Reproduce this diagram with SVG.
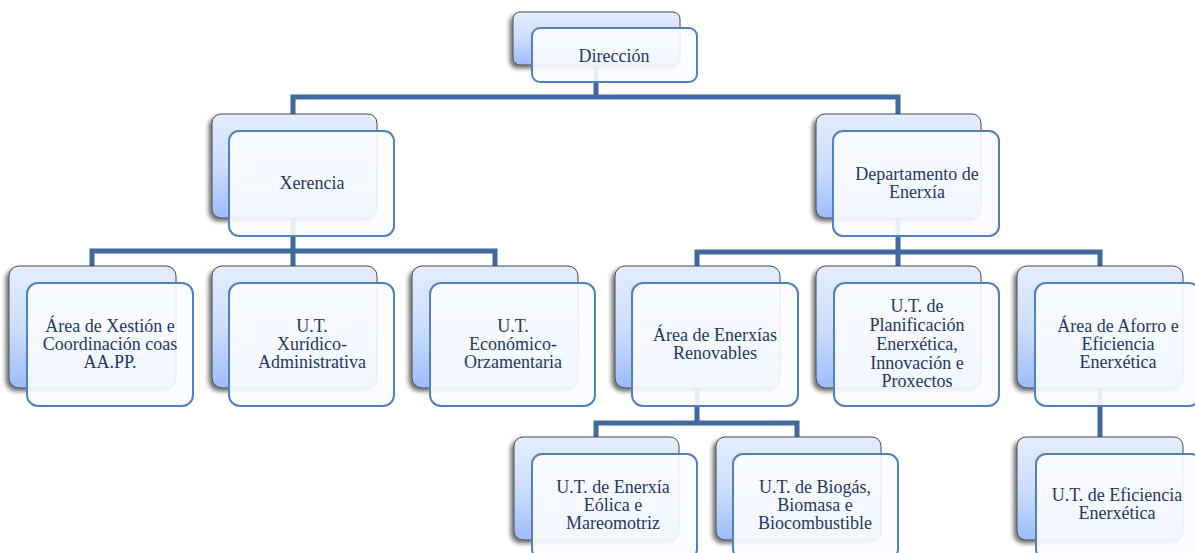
<svg xmlns="http://www.w3.org/2000/svg" width="1195" height="553" viewBox="0 0 1195 553">
<defs>
<linearGradient id="bg" x1="0" y1="0" x2="0" y2="1">
<stop offset="0" stop-color="#e4edfd"/>
<stop offset="0.5" stop-color="#cddefd"/>
<stop offset="1" stop-color="#9dbcfd"/>
</linearGradient>
<filter id="sh" x="-10%" y="-10%" width="120%" height="125%">
<feDropShadow dx="-3" dy="3" stdDeviation="2" flood-color="#000" flood-opacity="0.55"/>
</filter>
<style>
.back{fill:url(#bg);stroke:#4a4a4a;stroke-width:1;filter:url(#sh)}
.front{fill:#fbfcff;fill-opacity:0.9;stroke:#4f81bd;stroke-width:2}
.conn{fill:none;stroke:#41699f;stroke-width:5;stroke-linejoin:miter;stroke-linecap:butt}
text{font-family:"Liberation Serif","Times New Roman",serif;font-size:18px;fill:#1f3862;text-anchor:middle}
</style>
</defs>
<rect width="1195" height="553" fill="#ffffff"/>
<g id="connectors">
<path class="conn" d="M596,65 V97 M293,114 V97 H898 V114"/>
<path class="conn" d="M293,218 V251 M92,266 V251 H495 V266 M293,251 V266"/>
<path class="conn" d="M898,218 V252 M697,266 V252 H1100 V266 M898,252 V266"/>
<path class="conn" d="M697,388 V423 M596,437 V423 H797 V437"/>
<path class="conn" d="M1100,388 V437"/>
</g>
<g id="n-direccion">
<rect class="back" x="513" y="12" width="167" height="53" rx="7"/>
<rect class="front" x="532" y="28" width="165" height="54" rx="8"/>
<text x="614" y="62">Dirección</text>
</g>
<g id="n-xerencia">
<rect class="back" x="212" y="114" width="165" height="104" rx="9"/>
<rect class="front" x="229" y="131" width="165" height="105" rx="10"/>
<text x="312" y="189">Xerencia</text>
</g>
<g id="n-departamento">
<rect class="back" x="816" y="114" width="165" height="104" rx="9"/>
<rect class="front" x="833" y="131" width="166" height="105" rx="10"/>
<text x="917" y="180">Departamento de</text>
<text x="917" y="198">Enerxía</text>
</g>
<g id="n-xestion">
<rect class="back" x="9" y="266" width="167" height="122" rx="10"/>
<rect class="front" x="27" y="283" width="166" height="123" rx="11"/>
<text x="110" y="332">Área de Xestión e</text>
<text x="110" y="350">Coordinación coas</text>
<text x="110" y="368">AA.PP.</text>
</g>
<g id="n-xuridico">
<rect class="back" x="212" y="266" width="165" height="122" rx="10"/>
<rect class="front" x="229" y="283" width="165" height="123" rx="11"/>
<text x="312" y="332">U.T.</text>
<text x="312" y="350">Xurídico-</text>
<text x="312" y="368">Administrativa</text>
</g>
<g id="n-economico">
<rect class="back" x="412" y="266" width="166" height="122" rx="10"/>
<rect class="front" x="430" y="283" width="165" height="123" rx="11"/>
<text x="513" y="332">U.T.</text>
<text x="513" y="350">Económico-</text>
<text x="513" y="368">Orzamentaria</text>
</g>
<g id="n-renovables">
<rect class="back" x="615" y="266" width="165" height="122" rx="10"/>
<rect class="front" x="632" y="283" width="166" height="123" rx="11"/>
<text x="715" y="341">Área de Enerxías</text>
<text x="715" y="359">Renovables</text>
</g>
<g id="n-planificacion">
<rect class="back" x="816" y="266" width="165" height="122" rx="10"/>
<rect class="front" x="834" y="283" width="165" height="123" rx="11"/>
<text x="917" y="312">U.T. de</text>
<text x="917" y="331">Planificación</text>
<text x="917" y="350">Enerxética,</text>
<text x="917" y="369">Innovación e</text>
<text x="917" y="387">Proxectos</text>
</g>
<g id="n-aforro">
<rect class="back" x="1017" y="266" width="166" height="122" rx="10"/>
<rect class="front" x="1035" y="283" width="165" height="123" rx="11"/>
<text x="1118" y="332">Área de Aforro e</text>
<text x="1118" y="350">Eficiencia</text>
<text x="1118" y="368">Enerxética</text>
</g>
<g id="n-eolica">
<rect class="back" x="514" y="437" width="165" height="103" rx="9"/>
<rect class="front" x="532" y="454" width="165" height="105" rx="10"/>
<text x="613" y="493">U.T. de Enerxía</text>
<text x="613" y="511">Eólica e</text>
<text x="613" y="529">Mareomotriz</text>
</g>
<g id="n-biogas">
<rect class="back" x="716" y="437" width="165" height="103" rx="9"/>
<rect class="front" x="733" y="454" width="165" height="105" rx="10"/>
<text x="815" y="493">U.T. de Biogás,</text>
<text x="815" y="511">Biomasa e</text>
<text x="815" y="529">Biocombustible</text>
</g>
<g id="n-eficiencia">
<rect class="back" x="1017" y="437" width="166" height="103" rx="9"/>
<rect class="front" x="1036" y="454" width="165" height="105" rx="10"/>
<text x="1117" y="501">U.T. de Eficiencia</text>
<text x="1117" y="519">Enerxética</text>
</g>
</svg>
